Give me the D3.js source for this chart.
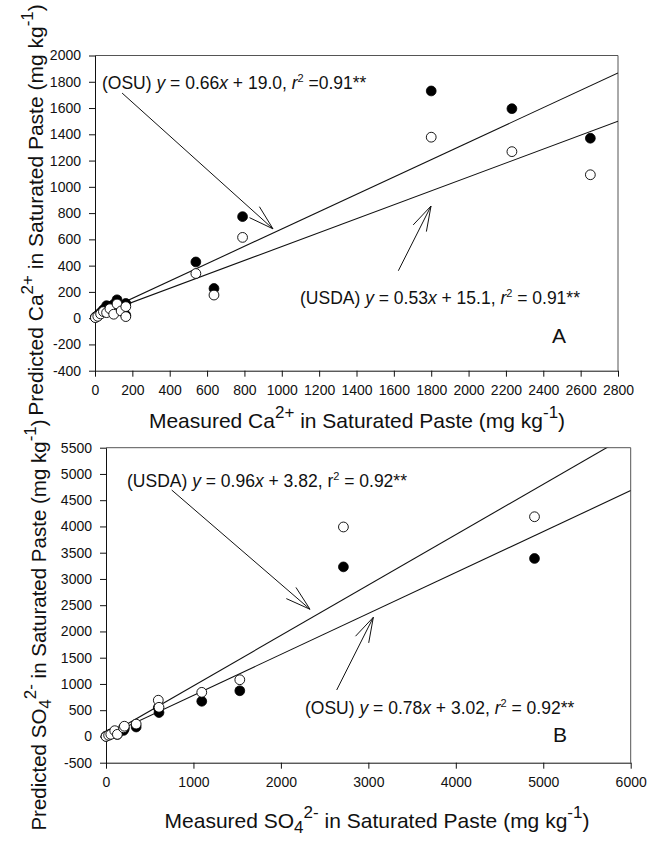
<!DOCTYPE html>
<html>
<head>
<meta charset="utf-8">
<script src="https://cdn.jsdelivr.net/npm/d3@7"></script>
<style>
  html, body { margin: 0; padding: 0; background: #fff; }
  svg { display: block; font-family: "Liberation Sans", Arial, sans-serif; }
</style>
</head>
<body>
<svg id="chart" width="649" height="847"></svg>
<script>
// ---------------- DATA ----------------
// Panel A: Ca2+
const caMeasured = [2, 15, 30, 45, 62, 80, 100, 118, 140, 165, 165, 540, 637, 790, 1800, 2232, 2652];
const caOSU      = [8, 22, 42, 65, 95, 90, 105, 140, 75, 112, 22, 428, 226, 773, 1730, 1595, 1370];
const caUSDA     = [4, 14, 32, 50, 42, 72, 30, 108, 55, 88, 12, 340, 176, 615, 1378, 1268, 1092];
const caXTicks = [0, 200, 400, 600, 800, 1000, 1200, 1400, 1600, 1800, 2000, 2200, 2400, 2600, 2800];
const caYTicks = [-400, -200, 0, 200, 400, 600, 800, 1000, 1200, 1400, 1600, 1800, 2000];
const caFitOSU  = [0.66, 19.0];
const caFitUSDA = [0.53, 15.1];

// Panel B: SO4 2-
const soMeasured = [0, 30, 55, 100, 130, 200, 210, 345, 598, 606, 1095, 1530, 2715, 4900];
const soOSU      = [5, 30, 50, 95, 40, 115, 150, 180, 545, 455, 670, 870, 3230, 3390];
const soUSDA     = [0, 22, 40, 110, 40, 165, 195, 235, 690, 555, 840, 1080, 3990, 4185];
const soXTicks = [0, 1000, 2000, 3000, 4000, 5000, 6000];
const soYTicks = [-500, 0, 500, 1000, 1500, 2000, 2500, 3000, 3500, 4000, 4500, 5000, 5500];
const soFitUSDA = [0.96, 3.82];
const soFitOSU  = [0.78, 3.02];

// Annotation arrows (data coordinates: [x0, y0, xTip, yTip])
const caArrowOSU  = [145, 1714, 953, 680];
const caArrowUSDA = [1624, 361, 1799, 854];
const soArrowUSDA = [751, 4694, 2333, 2422];
const soArrowOSU  = [2638, 885, 3057, 2270];

// ---------------- DRAW ----------------
const svg = d3.select("#chart");

function drawPanel(p) {
  const x = d3.scaleLinear().domain(p.xDomain).range([p.left, p.right]);
  const y = d3.scaleLinear().domain(p.yDomain).range([p.bottom, p.top]);
  const g = svg.append("g");

  // frame top/right
  g.append("line").attr("x1", p.left).attr("x2", p.right).attr("y1", p.top).attr("y2", p.top)
    .attr("stroke", "#555").attr("stroke-width", 1);
  g.append("line").attr("x1", p.right).attr("x2", p.right).attr("y1", p.top).attr("y2", p.bottom)
    .attr("stroke", "#555").attr("stroke-width", 1);

  const fmt = d => String(d);
  const ax = g.append("g").attr("transform", `translate(0,${p.bottom})`)
    .call(d3.axisBottom(x).tickValues(p.xTicks).tickFormat(fmt).tickSize(6).tickSizeOuter(0).tickPadding(p.xPad));
  const ay = g.append("g").attr("transform", `translate(${p.left},0)`)
    .call(d3.axisLeft(y).tickValues(p.yTicks).tickFormat(fmt).tickSize(6).tickSizeOuter(0).tickPadding(8));
  [ax, ay].forEach(a => {
    a.selectAll("text").attr("font-size", "14px").attr("fill", "#111")
      .attr("font-family", "'Liberation Sans', Arial, sans-serif");
    a.selectAll("line,path").attr("stroke", "#111");
  });

  // regression lines, clipped
  const clipId = "clip" + p.id;
  svg.append("clipPath").attr("id", clipId).append("rect")
    .attr("x", p.left).attr("y", p.top).attr("width", p.right - p.left).attr("height", p.bottom - p.top);
  const lg = g.append("g").attr("clip-path", `url(#${clipId})`);
  p.fits.forEach(f => {
    const x0 = 0, x1 = p.xDomain[1];
    lg.append("line")
      .attr("x1", x(x0)).attr("y1", y(f[0] * x0 + f[1]))
      .attr("x2", x(x1)).attr("y2", y(f[0] * x1 + f[1]))
      .attr("stroke", "#111").attr("stroke-width", 1.1);
  });

  // points: filled (OSU) first, then open (USDA) on top
  g.selectAll(".f").data(p.measured.map((m, i) => [m, p.osu[i]])).join("circle")
    .attr("cx", d => x(d[0])).attr("cy", d => y(d[1])).attr("r", 4.9)
    .attr("fill", "#000").attr("stroke", "#000").attr("stroke-width", 0.8);
  g.selectAll(".o").data(p.measured.map((m, i) => [m, p.usda[i]])).join("circle")
    .attr("cx", d => x(d[0])).attr("cy", d => y(d[1])).attr("r", 4.9)
    .attr("fill", "#fff").attr("stroke", "#000").attr("stroke-width", 0.9);

  // arrows
  p.arrows.forEach(a => {
    const sx = x(a[0]), sy = y(a[1]), tx = x(a[2]), ty = y(a[3]);
    const ang = Math.atan2(ty - sy, tx - sx);
    const L = 26, spread = 16.5 * Math.PI / 180;
    const w1 = [tx - L * Math.cos(ang - spread), ty - L * Math.sin(ang - spread)];
    const w2 = [tx - L * Math.cos(ang + spread), ty - L * Math.sin(ang + spread)];
    g.append("path")
      .attr("d", `M${sx},${sy}L${tx},${ty}M${w1[0]},${w1[1]}L${tx},${ty}L${w2[0]},${w2[1]}`)
      .attr("fill", "none").attr("stroke", "#111").attr("stroke-width", 1);
  });

  // equations
  p.eqs.forEach(e => {
    const t = g.append("text").attr("x", e.x).attr("y", e.y).attr("font-size", "17.5px").attr("fill", "#111");
    e.parts.forEach(part => {
      const s = t.append("tspan").text(part.t);
      if (part.i) s.attr("font-style", "italic");
      if (part.sup) s.attr("font-size", "11px").attr("dy", -7);
      if (part.after) s.attr("dy", 7);
    });
  });

  // panel letter
  g.append("text").attr("x", p.letter.x).attr("y", p.letter.y).attr("font-size", "21px")
    .attr("fill", "#111").text(p.letter.t);

  // axis titles
  const xt = g.append("text").attr("x", p.xTitle.x).attr("y", p.xTitle.y)
    .attr("text-anchor", "middle").attr("font-size", "21px").attr("fill", "#111");
  p.xTitle.parts.forEach(part => {
    const s = xt.append("tspan").text(part.t);
    if (part.fs) s.attr("font-size", part.fs);
    if (part.dy) s.attr("dy", part.dy);
  });
  const yt = g.append("text").attr("transform", `translate(${p.yTitle.x},${p.yTitle.y}) rotate(-90)`)
    .attr("text-anchor", "middle").attr("font-size", p.yTitle.size || "21px").attr("fill", "#111");
  p.yTitle.parts.forEach(part => {
    const s = yt.append("tspan").text(part.t);
    if (part.fs) s.attr("font-size", part.fs);
    if (part.dy) s.attr("dy", part.dy);
  });
}

const caTitle = s => [
  { t: s + " Ca" }, { t: "2+", fs: "17px", dy: -10 }, { t: " in Saturated Paste (mg kg", dy: 10 },
  { t: "-1", fs: "17px", dy: -10 }, { t: ")", dy: 10 }
];
const soTitle = s => [
  { t: s + " SO" }, { t: "4", fs: "17px", dy: 5 }, { t: "2-", fs: "17px", dy: -15 },
  { t: " in Saturated Paste (mg kg", dy: 10 }, { t: "-1", fs: "17px", dy: -10 }, { t: ")", dy: 10 }
];

drawPanel({
  id: "A", left: 95, right: 618, top: 55.5, bottom: 370.7,
  xDomain: [0, 2800], yDomain: [-400, 2000], xTicks: caXTicks, yTicks: caYTicks, xPad: 8,
  measured: caMeasured, osu: caOSU, usda: caUSDA, fits: [caFitOSU, caFitUSDA],
  arrows: [caArrowOSU, caArrowUSDA],
  eqs: [
    { x: 102, y: 89, parts: [{ t: "(OSU) " }, { t: "y", i: 1 }, { t: " = 0.66" }, { t: "x", i: 1 },
      { t: " + 19.0, " }, { t: "r", i: 1 }, { t: "2", sup: 1 }, { t: " =0.91**", after: 1 }] },
    { x: 300, y: 304, parts: [{ t: "(USDA) " }, { t: "y", i: 1 }, { t: " = 0.53" }, { t: "x", i: 1 },
      { t: " + 15.1, " }, { t: "r", i: 1 }, { t: "2", sup: 1 }, { t: " = 0.91**", after: 1 }] }
  ],
  letter: { x: 552, y: 343, t: "A" },
  xTitle: { x: 357, y: 428, parts: caTitle("Measured") },
  yTitle: { x: 43, y: 210, parts: caTitle("Predicted") }
});

drawPanel({
  id: "B", left: 106, right: 630.7, top: 447.7, bottom: 762.7,
  xDomain: [0, 6000], yDomain: [-500, 5500], xTicks: soXTicks, yTicks: soYTicks, xPad: 8,
  measured: soMeasured, osu: soOSU, usda: soUSDA, fits: [soFitUSDA, soFitOSU],
  arrows: [soArrowUSDA, soArrowOSU],
  eqs: [
    { x: 127, y: 487, parts: [{ t: "(USDA) " }, { t: "y", i: 1 }, { t: " = 0.96" }, { t: "x", i: 1 },
      { t: " + 3.82, r" }, { t: "2", sup: 1 }, { t: " = 0.92**", after: 1 }] },
    { x: 305, y: 714, parts: [{ t: "(OSU) " }, { t: "y", i: 1 }, { t: " = 0.78" }, { t: "x", i: 1 },
      { t: " + 3.02, " }, { t: "r", i: 1 }, { t: "2", sup: 1 }, { t: " = 0.92**", after: 1 }] }
  ],
  letter: { x: 553, y: 742, t: "B" },
  xTitle: { x: 377, y: 828, parts: soTitle("Measured") },
  yTitle: { x: 46, y: 625, size: "20.5px", parts: soTitle("Predicted") }
});
</script>
</body>
</html>
